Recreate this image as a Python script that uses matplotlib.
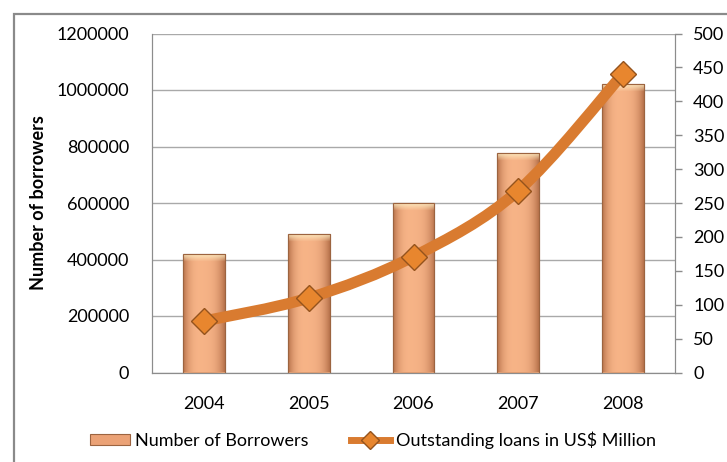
import numpy as np
import matplotlib
matplotlib.use("Agg")
import matplotlib.pyplot as plt
from matplotlib.colors import to_rgb
from matplotlib.path import Path
from matplotlib.patches import PathPatch, Rectangle, Patch
from matplotlib.lines import Line2D

years = ["2004", "2005", "2006", "2007", "2008"]
borrowers = [418000, 489000, 600000, 778000, 1020000]
loans = [76, 110, 171, 268, 440]
left_ticks = [0, 200000, 400000, 600000, 800000, 1000000, 1200000]
right_ticks = [0, 50, 100, 150, 200, 250, 300, 350, 400, 450, 500]

plt.rcParams['font.family'] = ['Lato', 'DejaVu Sans']
plt.rcParams['font.size'] = 13

fig = plt.figure(figsize=(7.27, 4.62), dpi=100)
ax = fig.add_axes([152 / 727, 1 - 372.5 / 462, 523 / 727, 339 / 462])
ax2 = ax.twinx()

x = np.arange(len(years))
ax.set_xlim(-0.5, len(years) - 0.5)
ax.set_ylim(0, 1200000)
ax.set_yticks(left_ticks, [str(v) for v in left_ticks])
ax.set_xticks(x, years)
ax.grid(axis='y', color='#a9a9a9', lw=1)
ax.set_axisbelow(True)

bars = ax.bar(x, borrowers, width=0.4, color='#f2a878', edgecolor='#9c6440',
              linewidth=0.8, zorder=2)

# shaded fill for the bars: darker edges, light bevel on top
edge = np.array(to_rgb('#b8734c'))
mid = np.array(to_rgb('#fcb98c'))
bevel = np.array(to_rgb('#fdf0c6'))
t = np.linspace(0, 1, 60)
prof = 1 - np.abs(2 * t - 1) ** 3
prof = prof * (1 - 0.18 * t)
row = edge + (mid - edge) * prof[:, None]
for b in bars:
    x0, x1 = b.get_x(), b.get_x() + b.get_width()
    h = b.get_height()
    px = ax.transData.transform([(0, 0), (0, h)])
    nrows = max(int(px[1, 1] - px[0, 1]), 10)
    img = np.repeat(row[None, :, :], nrows, axis=0)
    k = 8
    for r in range(k):
        w = 1 - r / k
        img[r] = img[r] * (1 - w * 0.9) + bevel * w * 0.9
    im = ax.imshow(img, extent=(x0, x1, 0, h), aspect='auto', origin='upper',
                   zorder=2.1, interpolation='bilinear')
    im.set_clip_path(b)
    ax.add_patch(Rectangle((x0, 0), b.get_width(), h, fill=False,
                           edgecolor='#9c6440', lw=0.8, zorder=2.2))

# smoothed line (Catmull-Rom style Bezier through the points)
pts = np.column_stack([x, loans]).astype(float)
ext = np.vstack([pts[0], pts, pts[-1]])
verts = [tuple(pts[0])]
codes = [Path.MOVETO]
for i in range(len(pts) - 1):
    p0, p1, p2, p3 = ext[i], ext[i + 1], ext[i + 2], ext[i + 3]
    c1 = p1 + (p2 - p0) / 6
    c2 = p2 - (p3 - p1) / 6
    verts += [tuple(c1), tuple(c2), tuple(p2)]
    codes += [Path.CURVE4] * 3
ax2.add_patch(PathPatch(Path(verts, codes), fill=False, edgecolor='#d97b30',
                        lw=8, capstyle='butt', joinstyle='round', zorder=3))
ax2.plot(x, loans, ls='none', marker='D', ms=13, mfc='#e8862e', mec='#94531d',
         mew=1, zorder=4)
ax2.set_ylim(0, 500)
ax2.set_yticks(right_ticks)

for a in (ax, ax2):
    a.spines['top'].set_visible(False)
    a.spines['left'].set_color('#8c8c8c')
    a.spines['bottom'].set_color('#8c8c8c')
    a.spines['right'].set_color('#8c8c8c')
ax.tick_params(axis='y', length=0, pad=16.5, labelsize=13)
ax.tick_params(axis='x', length=0, pad=17, labelsize=13)
ax2.tick_params(axis='y', length=5, width=1, color='#8c8c8c', pad=8, labelsize=13)

ax.set_ylabel("Number of borrowers", fontweight='bold', fontsize=13)
ax.yaxis.set_label_coords((47 - 152) / 523, 0.5)

handles = [Patch(facecolor='#eba276', edgecolor='#9c6440', lw=0.8),
           Line2D([], [], color='#d97b30', lw=5, marker='D', ms=9,
                  mfc='#e8862e', mec='#94531d')]
fig.legend(handles, ["Number of Borrowers", "Outstanding loans in US$ Million"],
           loc='center', bbox_to_anchor=(373 / 727, 1 - 440 / 462), ncol=2,
           frameon=False, handlelength=2.2, handleheight=0.6,
           handletextpad=0.3, columnspacing=2.3, fontsize=13)

# outer chart frame
fig.patches.append(Rectangle((13.5 / 727, -0.1), 1.2, 1.1 - 14.5 / 462,
                             transform=fig.transFigure, fill=False,
                             edgecolor='#8a8a8a', lw=1.6))

fig.savefig("out.png", dpi=100)
